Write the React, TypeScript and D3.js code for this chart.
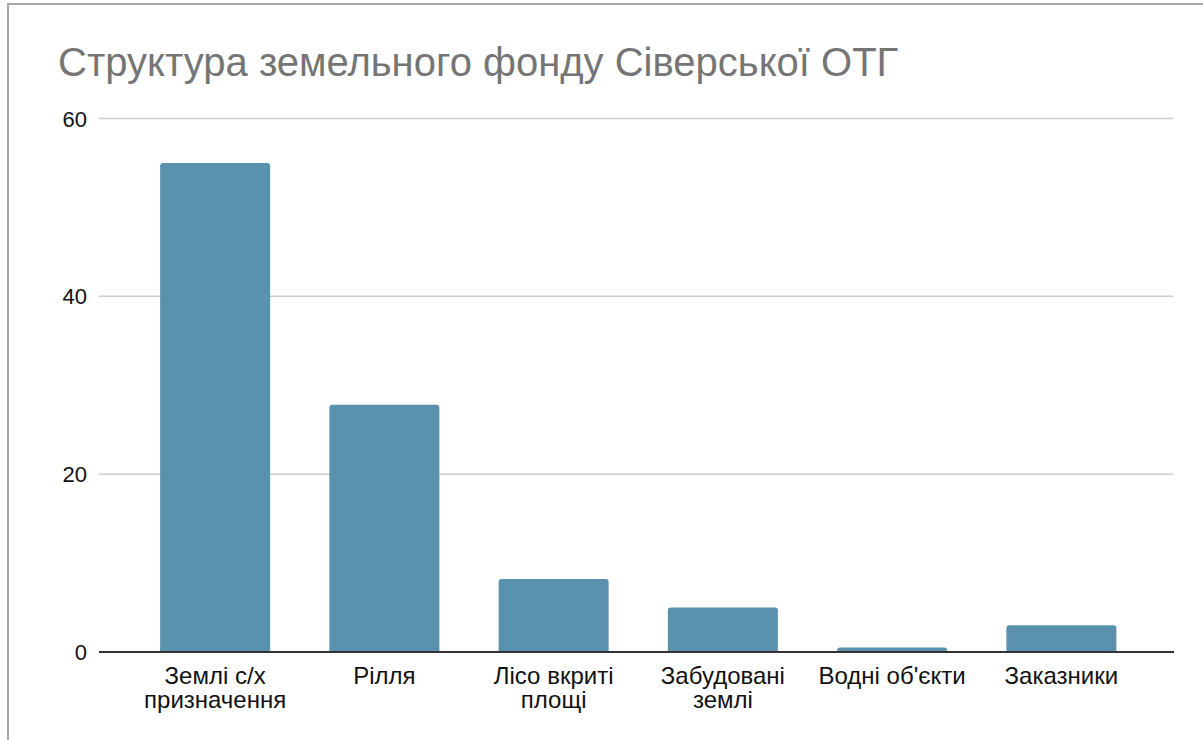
import React, { useEffect, useRef } from 'react';
import * as d3 from 'd3';

const title = 'Структура земельного фонду Сіверської ОТГ';
const categories = [
  ['Землі с/х', 'призначення'],
  ['Рілля'],
  ['Лісо вкриті', 'площі'],
  ['Забудовані', 'землі'],
  ["Водні об'єкти"],
  ['Заказники'],
];
const values = [55, 27.8, 8.2, 5, 0.5, 3];
const yTicks = [0, 20, 40, 60];

const W = 1203;
const H = 740;
const FONT = '"Liberation Sans", Arial, sans-serif';

const App = () => {
  const ref = useRef(null);

  useEffect(() => {
    const svg = d3.select(ref.current);
    svg.selectAll('*').remove();

    // frame (cropped card border)
    svg.append('path')
      .attr('d', `M8,${H} V4 H${W}`)
      .attr('fill', 'none')
      .attr('stroke', '#a6a6a6')
      .attr('stroke-width', 2);

    svg.append('text')
      .attr('x', 58)
      .attr('y', 76)
      .attr('font-family', FONT)
      .attr('font-size', 40)
      .attr('fill', '#757575')
      .text(title);

    const yScale = d3.scaleLinear().domain([0, 60]).range([652, 118.5]);
    const xScale = d3.scaleBand()
      .domain(categories.map((c, i) => String(i)))
      .range([130.5, 1146])
      .paddingInner(0.35)
      .paddingOuter(0.175);

    const grid = svg.append('g');
    grid.selectAll('line')
      .data(yTicks.filter(t => t !== 0))
      .join('line')
      .attr('x1', 99)
      .attr('x2', 1173)
      .attr('y1', d => yScale(d))
      .attr('y2', d => yScale(d))
      .attr('stroke', '#cccccc')
      .attr('stroke-width', 1.5);

    svg.append('g').selectAll('text')
      .data(yTicks)
      .join('text')
      .attr('x', 87)
      .attr('y', d => yScale(d) + 8)
      .attr('text-anchor', 'end')
      .attr('font-family', FONT)
      .attr('font-size', 22)
      .attr('fill', '#111')
      .text(d => d);

    const r = 3;
    svg.append('g').selectAll('path')
      .data(values)
      .join('path')
      .attr('fill', '#5a92ae')
      .attr('d', (d, i) => {
        const x0 = xScale(String(i));
        const w = xScale.bandwidth();
        const y0 = yScale(d);
        const y1 = yScale(0);
        const rr = Math.min(r, (y1 - y0));
        return `M${x0},${y1} V${y0 + rr} Q${x0},${y0} ${x0 + rr},${y0} H${x0 + w - rr} Q${x0 + w},${y0} ${x0 + w},${y0 + rr} V${y1} Z`;
      });

    svg.append('line')
      .attr('x1', 99)
      .attr('x2', 1174)
      .attr('y1', yScale(0))
      .attr('y2', yScale(0))
      .attr('stroke', '#333')
      .attr('stroke-width', 2);

    const labels = svg.append('g').selectAll('text')
      .data(categories)
      .join('text')
      .attr('x', (d, i) => xScale(String(i)) + xScale.bandwidth() / 2)
      .attr('y', 684)
      .attr('text-anchor', 'middle')
      .attr('font-family', FONT)
      .attr('font-size', 24)
      .attr('fill', '#111');
    labels.selectAll('tspan')
      .data(d => d)
      .join('tspan')
      .attr('x', function () { return d3.select(this.parentNode).attr('x'); })
      .attr('dy', (d, j) => (j === 0 ? 0 : 24))
      .text(d => d);
  }, []);

  return (
    <svg ref={ref} width={W} height={H}
      style={{ position: 'absolute', left: 0, top: 0, background: '#fff' }} />
  );
};

export default App;
